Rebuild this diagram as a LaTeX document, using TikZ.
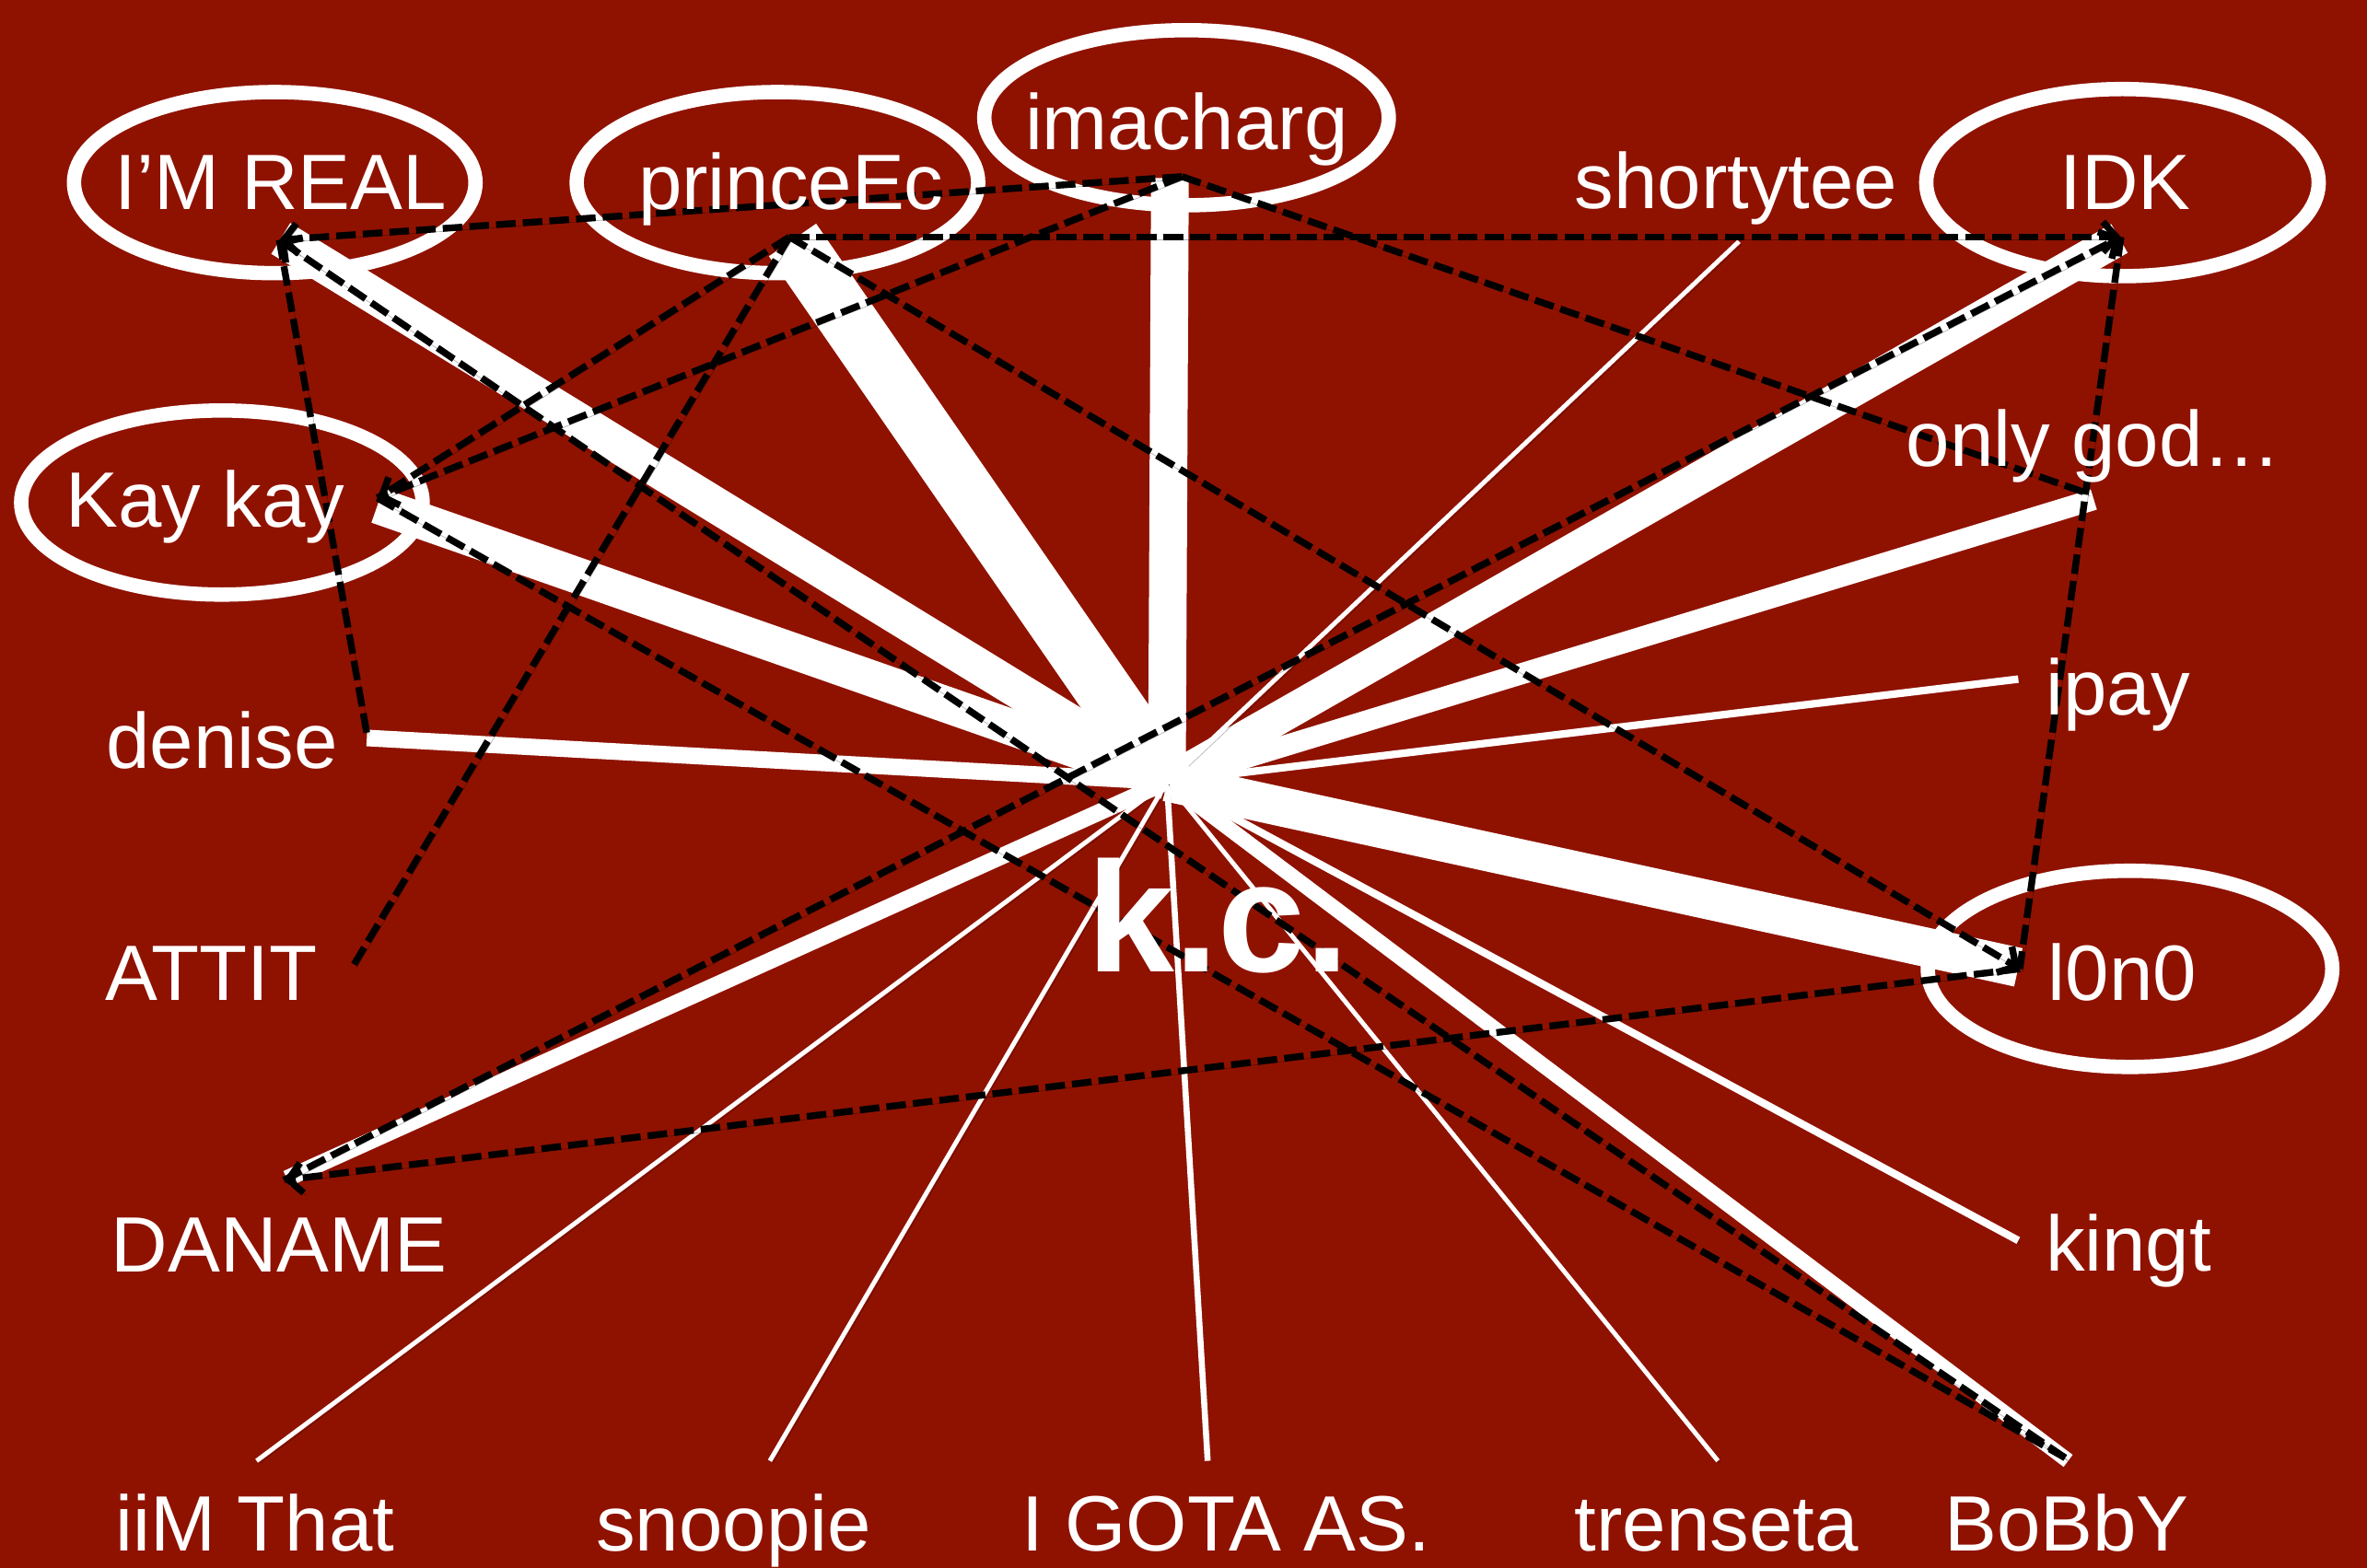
\documentclass[tikz,border=0pt]{standalone}
\usepackage{fontspec}
\setmainfont{Liberation Sans}
\usetikzlibrary{shapes.geometric,arrows.meta}
\definecolor{bg}{RGB}{143,18,0}
\begin{document}
\begin{tikzpicture}[x=1pt,y=-1pt,
  lbl/.style={text=white,font=\fontsize{52}{60}\selectfont,inner sep=0pt,anchor=base},
  ring/.style={ellipse,draw=white,line width=9.5pt,inner sep=0pt},
  shd/.style={preaction={draw=black,draw opacity=.3,transform canvas={shift={(1.8pt,-1.8pt)}}}},
  bar/.style={draw=white,line cap=butt,shd},
  dl/.style={draw=black,line width=4.5pt,dash pattern=on 13pt off 4.7pt,shd},
  tip/.style={-{Straight Barb[length=9pt,width=20pt]}}
]
\fill[bg] (0,0) rectangle (1568,1039);
\useasboundingbox (0,0) rectangle (1568,1039);

% ellipses
\node[ring,minimum width=266pt,minimum height=120pt] (r-imr) at (182,121) {};
\node[ring,minimum width=266pt,minimum height=120pt] (r-pe) at (515,121) {};
\node[ring,minimum width=268pt,minimum height=116pt] (r-imc) at (786,78) {};
\node[ring,minimum width=260pt,minimum height=124pt] (r-idk) at (1406,121) {};
\node[ring,minimum width=266pt,minimum height=122pt] (r-kk) at (147,333) {};
\node[ring,minimum width=268pt,minimum height=130pt] (r-l0) at (1411,642) {};

% hub and bar ends
\coordinate (hub) at (773,518);
\coordinate (b-imr) at (186,158);
\coordinate (b-pe) at (525,159);
\coordinate (b-imc) at (775,118);
\coordinate (b-idk) at (1404,158);
\coordinate (b-kk) at (250,335);
\coordinate (b-og) at (1387,331);
\coordinate (b-ipay) at (1337,450);
\coordinate (b-st) at (1152,160);
\coordinate (b-de) at (243,489);
\coordinate (b-l0) at (1337,641);
\coordinate (b-kt) at (1337,822);
\coordinate (b-bb) at (1370,968);
\coordinate (b-tr) at (1138,968);
\coordinate (b-ig) at (800,968);
\coordinate (b-sn) at (510,968);
\coordinate (b-iim) at (170,968);
\coordinate (b-dn) at (190,781);

\draw[bar,line width=24pt] (hub) -- (b-imr);
\draw[bar,line width=38pt] (hub) -- (b-pe);
\draw[bar,line width=25pt] (hub) -- (b-imc);
\draw[bar,line width=22pt] (hub) -- (b-idk);
\draw[bar,line width=24pt] (hub) -- (b-kk);
\draw[bar,line width=14pt] (hub) -- (b-og);
\draw[bar,line width=5pt] (hub) -- (b-ipay);
\draw[bar,line width=3pt] (hub) -- (b-st);
\draw[bar,line width=11pt] (hub) -- (b-de);
\draw[bar,line width=26pt] (hub) -- (b-l0);
\draw[bar,line width=5pt] (hub) -- (b-kt);
\draw[bar,line width=10pt] (hub) -- (b-bb);
\draw[bar,line width=3pt] (hub) -- (b-tr);
\draw[bar,line width=4pt] (hub) -- (b-ig);
\draw[bar,line width=3pt] (hub) -- (b-sn);
\draw[bar,line width=3pt] (hub) -- (b-iim);
\draw[bar,line width=11pt] (hub) -- (b-dn);

% dashed link points
\coordinate (d-imr) at (185,159);
\coordinate (d-pe) at (523,157);
\coordinate (d-imc) at (783,117);
\coordinate (d-kk) at (250,330);
\coordinate (d-idk) at (1405,157);
\coordinate (d-og) at (1383,327);
\coordinate (d-l0) at (1338,642);
\coordinate (d-dn) at (188,782);
\coordinate (d-de) at (243,486);
\coordinate (d-at) at (234,640);
\coordinate (d-bb) at (1368,966);

\draw[dl,tip] (d-imc) -- (d-imr);
\draw[dl,tip] (d-imc) -- (d-kk);
\draw[dl] (d-imc) -- (d-og);
\draw[dl,tip] (d-pe) -- (d-idk);
\draw[dl] (d-pe) -- (d-kk);
\draw[dl] (d-pe) -- (d-at);
\draw[dl,tip] (d-pe) -- (d-l0);
\draw[dl] (d-imr) -- (d-de);
\draw[dl,tip] (d-bb) -- (d-imr);
\draw[dl] (d-kk) -- (d-bb);
\draw[dl,tip] (d-dn) -- (d-idk);
\draw[dl] (d-idk) -- (d-l0);
\draw[dl,tip] (d-l0) -- (d-dn);

% labels
\node[lbl] (t-imr) at (186,139) {I’M REAL};
\node[lbl] (t-pe) at (524,139) {princeEc};
\node[lbl] (t-imc) at (786,99) {imacharg};
\node[lbl] (t-st) at (1150,138) {shortytee};
\node[lbl] (t-idk) at (1408,139) {IDK};
\node[lbl] (t-og) at (1387,309) {only god…};
\node[lbl] (t-kk) at (136,349) {Kay kay};
\node[lbl] (t-ipay) at (1403,474) {ipay};
\node[lbl] (t-de) at (147,509) {denise};
\node[lbl] (t-at) at (140,663) {ATTIT};
\node[lbl] (t-l0) at (1406,663) {l0n0};
\node[lbl] (t-dn) at (185,843) {DANAME};
\node[lbl] (t-kt) at (1410,842) {kingt};
\node[lbl] (t-iim) at (169,1028) {iiM That};
\node[lbl] (t-sn) at (486,1028) {snoopie};
\node[lbl] (t-ig) at (812,1028) {I GOTA AS.};
\node[lbl] (t-tr) at (1137,1028) {trenseta};
\node[lbl] (t-bb) at (1369,1028) {BoBbY};
\node[lbl,font=\fontsize{104}{110}\selectfont\bfseries] (t-kc) at (807,644) {k.c.};
\end{tikzpicture}
\end{document}
